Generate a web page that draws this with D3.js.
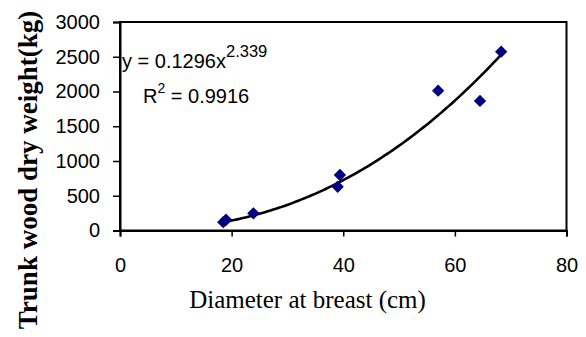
<!DOCTYPE html>
<html>
<head>
<meta charset="utf-8">
<script src="https://cdn.jsdelivr.net/npm/d3@7"></script>
<style>
  html, body { margin: 0; padding: 0; background: #fff; }
  svg { display: block; }
</style>
</head>
<body>
<svg id="chart" width="586" height="337"></svg>
<script>
// ---- data ----
const diameter = [18.5, 19.0, 23.9, 39.0, 39.4, 57.0, 64.5, 68.3];
const weight   = [120, 155, 247, 630, 799, 2012, 1864, 2573];
const xTicks = [0, 20, 40, 60, 80];
const yTicks = [0, 500, 1000, 1500, 2000, 2500, 3000];
// power trendline coefficients shown on the chart
const fitA = 0.1296;
const fitB = 2.339;
const eqText = "y = 0.1296x";
const eqExp = "2.339";
const r2Text = "= 0.9916";
const xTitle = "Diameter at breast (cm)";
const yTitle = "Trunk wood dry weight(kg)";

const svg = d3.select("#chart");
const pLeft = 120, pRight = 566.5, pTop = 22, pBottom = 230.5;
const x = d3.scaleLinear().domain([0, 80]).range([pLeft, pRight]);
const y = d3.scaleLinear().domain([0, 3000]).range([pBottom, pTop]);

const sans = "'Liberation Sans', Arial, sans-serif";
const serif = "'Liberation Serif', 'Times New Roman', serif";

// plot frame
svg.append("rect")
  .attr("x", pLeft).attr("y", pTop)
  .attr("width", pRight - pLeft).attr("height", pBottom - pTop)
  .attr("fill", "none").attr("stroke", "#000").attr("stroke-width", 2);

// axes
const yAxis = svg.append("g").attr("transform", `translate(${pLeft},0)`)
  .call(d3.axisLeft(y).tickValues(yTicks).tickSize(7).tickPadding(13).tickFormat(d3.format("d")));
const xAxis = svg.append("g").attr("transform", `translate(0,${pBottom})`)
  .call(d3.axisBottom(x).tickValues(xTicks).tickSize(6).tickPadding(21).tickFormat(d3.format("d")));
[yAxis, xAxis].forEach(g => {
  g.select(".domain").attr("stroke", "#000").attr("stroke-width", 2);
  g.selectAll(".tick line").attr("stroke", "#000").attr("stroke-width", 1.5);
  g.selectAll(".tick text").attr("fill", "#000")
    .style("font-family", sans).style("font-size", "20px");
});

// trendline
const xMin = d3.min(diameter), xMax = d3.max(diameter);
const trendPts = d3.range(0, 101).map(i => {
  const xv = xMin + (xMax - xMin) * i / 100;
  return [xv, fitA * Math.pow(xv, fitB)];
});
svg.append("path")
  .datum(trendPts)
  .attr("fill", "none").attr("stroke", "#000").attr("stroke-width", 2.6)
  .attr("d", d3.line().x(d => x(d[0])).y(d => y(d[1])));

// markers (diamonds)
const diamond = d3.symbol().type(d3.symbolSquare).size(76);
svg.append("g").selectAll("path")
  .data(diameter.map((d, i) => [d, weight[i]]))
  .join("path")
  .attr("d", diamond)
  .attr("transform", d => `translate(${x(d[0])},${y(d[1])}) rotate(45)`)
  .attr("fill", "#000080");

// equation text
const eq = svg.append("text").attr("x", 122).attr("y", 68)
  .style("font-family", sans).style("font-size", "20px").attr("fill", "#000");
eq.append("tspan").text(eqText);
eq.append("tspan").attr("dy", -11).style("font-size", "16.5px").text(eqExp);

const r2 = svg.append("text").attr("x", 143).attr("y", 103)
  .style("font-family", sans).style("font-size", "20px").attr("fill", "#000");
r2.append("tspan").text("R");
r2.append("tspan").attr("dy", -10).style("font-size", "14px").text("2");
r2.append("tspan").attr("dy", 10).text(" " + r2Text);

// axis titles
svg.append("text")
  .attr("x", 307.5).attr("y", 308)
  .attr("text-anchor", "middle")
  .style("font-family", serif).style("font-size", "25px").attr("fill", "#000")
  .text(xTitle);

svg.append("text")
  .attr("transform", "translate(37,170) rotate(-90)")
  .attr("text-anchor", "middle")
  .style("font-family", serif).style("font-size", "27px").style("font-weight", "bold").attr("fill", "#000")
  .text(yTitle);
</script>
</body>
</html>
